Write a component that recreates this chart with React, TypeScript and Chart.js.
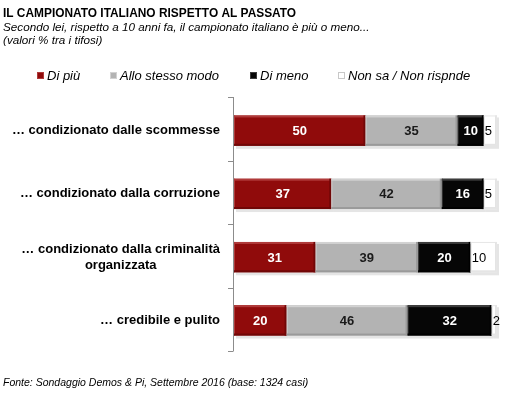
import React, { useEffect, useRef } from "react";
import { Chart, registerables } from "chart.js";
Chart.register(...registerables);

const categories: string[][] = [
  ["… condizionato dalle scommesse"],
  ["… condizionato dalla corruzione"],
  ["… condizionato dalla criminalità", "organizzata"],
  ["… credibile e pulito"],
];
const seriesNames = ["Di più", "Allo stesso modo", "Di meno", "Non sa / Non rispnde"];
const diPiu = [50, 37, 31, 20];
const stesso = [35, 42, 39, 46];
const diMeno = [10, 16, 20, 32];
const nonSa = [5, 5, 10, 2];

const title = "IL CAMPIONATO ITALIANO RISPETTO AL PASSATO";
const subtitle1 = "Secondo lei, rispetto a 10 anni fa, il campionato italiano è più o meno...";
const subtitle2 = "(valori % tra i tifosi)";
const footer = "Fonte: Sondaggio Demos & Pi, Settembre 2016 (base: 1324 casi)";

const colors = ["#900B0B", "#B3B3B3", "#060606", "#FFFFFF"];
const hiColors = ["#B03A3A", "#D2D2D2", "#3C3C3C", "#FFFFFF"];
const loColors = ["#700707", "#9A9A9A", "#000000", "#E4E4E4"];
const labelColors = ["#FFFFFF", "#1A1A1A", "#FFFFFF", "#000000"];
const FONT = "'Liberation Sans', Arial, sans-serif";

const decorPlugin = {
  id: "decor",
  beforeDatasetsDraw(chart: any) {
    const ctx = chart.ctx;
    ctx.save();
    chart.data.datasets.forEach((ds: any, di: number) => {
      const meta = chart.getDatasetMeta(di);
      meta.data.forEach((el: any) => {
        const p = el.getProps(["x", "y", "base", "height"], true);
        const top = p.y - p.height / 2;
        ctx.fillStyle = "rgba(0,0,0,0.10)";
        ctx.fillRect(p.base + 2, top + 2, p.x - p.base, p.height + 1);
      });
    });
    ctx.restore();
  },
  afterDatasetsDraw(chart: any) {
    const ctx = chart.ctx;
    ctx.save();
    chart.data.datasets.forEach((ds: any, di: number) => {
      const meta = chart.getDatasetMeta(di);
      meta.data.forEach((el: any, i: number) => {
        const p = el.getProps(["x", "y", "base", "height"], true);
        const top = p.y - p.height / 2;
        const w = p.x - p.base;
        const h = p.height;
        ctx.fillStyle = hiColors[di];
        ctx.fillRect(p.base, top, w, 2);
        ctx.fillRect(p.base, top, 1, h);
        ctx.fillStyle = loColors[di];
        ctx.fillRect(p.base, top + h - 2, w, 2);
        ctx.fillRect(p.base + w - 2, top, 2, h);
        if (di === 3) {
          ctx.strokeStyle = "#E6E6E6";
          ctx.lineWidth = 1;
          ctx.strokeRect(p.base + 0.5, top + 0.5, w - 1, h - 1);
        }
        const v = ds.data[i];
        ctx.fillStyle = labelColors[di];
        ctx.textBaseline = "middle";
        if (di === 3) {
          ctx.font = `13px ${FONT}`;
          ctx.textAlign = "left";
          ctx.fillText(String(v), p.base + 1, p.y + 1);
        } else {
          ctx.font = `bold 13px ${FONT}`;
          ctx.textAlign = "center";
          ctx.fillText(String(v), (p.base + p.x) / 2, p.y + 1);
        }
      });
    });
    ctx.restore();
  },
  afterDraw(chart: any) {
    const ctx = chart.ctx;
    const ys = chart.scales.y;
    const xs = chart.scales.x;
    const x0 = xs.getPixelForValue(0);
    ctx.save();
    const n = categories.length;
    const step = ys.getPixelForValue(1) - ys.getPixelForValue(0);
    const topY = ys.getPixelForValue(0) - step / 2 - 2;
    const botY = ys.getPixelForValue(n - 1) + step / 2 - 1;
    const st = (botY - topY) / n;
    ctx.strokeStyle = "#8C8C8C";
    ctx.lineWidth = 1;
    ctx.beginPath();
    ctx.moveTo(Math.round(x0) - 0.5, topY);
    ctx.lineTo(Math.round(x0) - 0.5, botY);
    for (let k = 0; k <= n; k++) {
      const yy = Math.round(topY + k * st) + 0.5;
      ctx.moveTo(Math.round(x0) - 6, yy);
      ctx.lineTo(Math.round(x0) - 0.5, yy);
    }
    ctx.stroke();

    ctx.fillStyle = "#000";
    ctx.font = `bold 13px ${FONT}`;
    ctx.textBaseline = "middle";
    categories.forEach((lines, i) => {
      const cy = ys.getPixelForValue(i);
      if (lines.length === 1) {
        ctx.textAlign = "right";
        ctx.fillText(lines[0], x0 - 14, cy);
      } else {
        const w0 = ctx.measureText(lines[0]).width;
        const cx = x0 - 14 - w0 / 2;
        ctx.textAlign = "center";
        lines.forEach((ln, k) => {
          ctx.fillText(ln, cx, cy + (k - (lines.length - 1) / 2) * 16);
        });
      }
    });

    ctx.textAlign = "left";
    ctx.textBaseline = "alphabetic";
    ctx.font = `bold 11.9px ${FONT}`;
    ctx.fillText(title, 3, 17);
    ctx.font = `italic 11.7px ${FONT}`;
    ctx.fillText(subtitle1, 3, 31);
    ctx.fillText(subtitle2, 3, 44);

    const legX = [37, 110, 250, 338];
    ctx.font = `italic 13px ${FONT}`;
    seriesNames.forEach((nm, k) => {
      ctx.fillStyle = colors[k];
      ctx.fillRect(legX[k], 72, 7, 7);
      ctx.strokeStyle = k === 3 ? "#C8C8C8" : hiColors[k];
      ctx.strokeRect(legX[k] + 0.5, 72.5, 6, 6);
      ctx.fillStyle = "#000";
      ctx.fillText(nm, legX[k] + 10, 80);
    });

    ctx.font = `italic 10.5px ${FONT}`;
    ctx.fillStyle = "#000";
    ctx.fillText(footer, 3, 386);
    ctx.restore();
  },
};

export default function App() {
  const ref = useRef<HTMLCanvasElement>(null);
  useEffect(() => {
    document.body.style.margin = "0";
    const data = [diPiu, stesso, diMeno, nonSa];
    const chart = new Chart(ref.current!, {
      type: "bar",
      data: {
        labels: categories.map((c) => c.join(" ")),
        datasets: data.map((d, k) => ({
          label: seriesNames[k],
          data: d,
          backgroundColor: colors[k],
          borderWidth: 0,
          barPercentage: 0.48,
          categoryPercentage: 1,
        })),
      },
      options: {
        indexAxis: "y",
        animation: false,
        responsive: false,
        maintainAspectRatio: false,
        layout: { padding: { left: 234, top: 99, right: 35, bottom: 47 } },
        plugins: { legend: { display: false }, title: { display: false }, tooltip: { enabled: false } },
        scales: {
          x: { stacked: true, min: 0, max: 100, display: false },
          y: { stacked: true, display: false },
        },
      },
      plugins: [decorPlugin],
    });
    return () => chart.destroy();
  }, []);
  return (
    <div style={{ width: 532, height: 399, background: "#fff" }}>
      <canvas ref={ref} width={532} height={399} style={{ display: "block" }} />
    </div>
  );
}
